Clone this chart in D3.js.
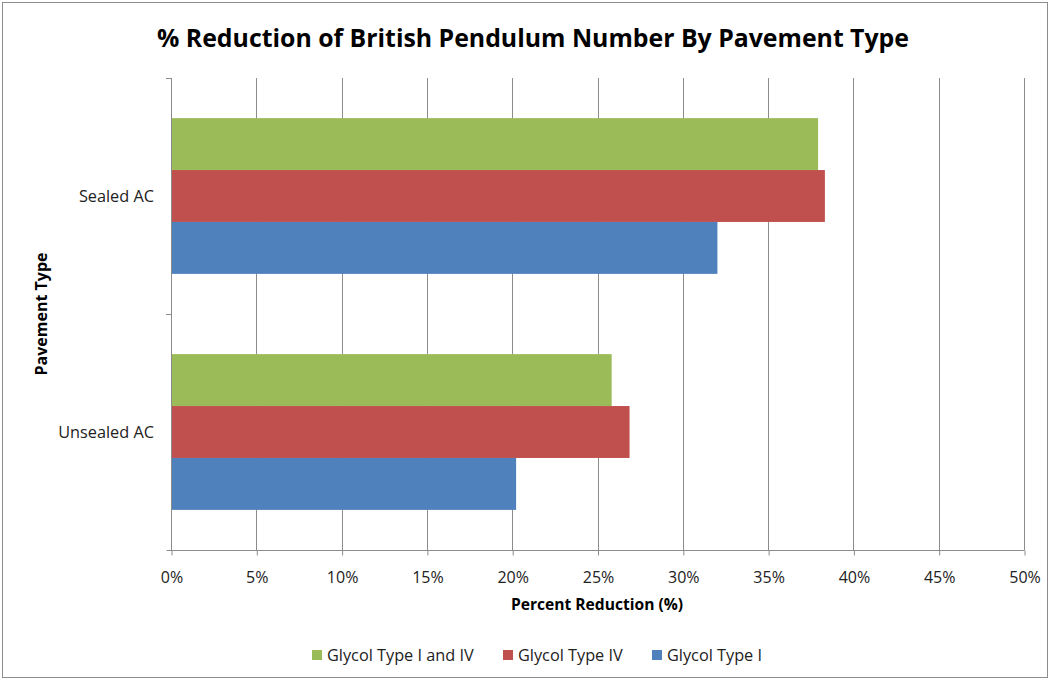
<!DOCTYPE html>
<html>
<head>
<meta charset="utf-8">
<script src="https://cdn.jsdelivr.net/npm/d3@7"></script>
<style>
  html, body { margin: 0; padding: 0; background: #fff; }
  svg { display: block; font-family: "Open Sans", "Liberation Sans", sans-serif; }
</style>
</head>
<body>
<svg id="chart" width="1050" height="680"></svg>
<script>
// Data
const categories = ["Sealed AC", "Unsealed AC"];
const seriesNames = ["Glycol Type I and IV", "Glycol Type IV", "Glycol Type I"];
const seriesColors = ["#9BBB59", "#C0504D", "#4F81BD"];
const glycolTypeIandIV = [37.9, 25.8];
const glycolTypeIV = [38.3, 26.85];
const glycolTypeI = [32.0, 20.2];
const xTicks = [0, 5, 10, 15, 20, 25, 30, 35, 40, 45, 50];

const seriesValues = [glycolTypeIandIV, glycolTypeIV, glycolTypeI];

const svg = d3.select("#chart");
const W = 1050, H = 680;

// outer border
svg.append("rect").attr("x", 2.5).attr("y", 2.5).attr("width", W - 5).attr("height", H - 5)
  .attr("fill", "#fff").attr("stroke", "#8c8c8c").attr("stroke-width", 1);

const plot = { left: 171, right: 1024, top: 78, bottom: 550 };

const x = d3.scaleLinear().domain([0, 50]).range([plot.left, plot.right]);
const y = d3.scaleBand().domain(categories).range([plot.top, plot.bottom]).paddingInner(0.34).paddingOuter(0.17);
const ySub = d3.scaleBand().domain(seriesNames).range([0, y.bandwidth()]);

// gridlines
svg.append("g").selectAll("line").data(xTicks.slice(1)).join("line")
  .attr("x1", d => Math.round(x(d)) + 0.5).attr("x2", d => Math.round(x(d)) + 0.5)
  .attr("y1", plot.top).attr("y2", plot.bottom)
  .attr("stroke", "#8c8c8c").attr("stroke-width", 1);

// bars
const tableRows = [];
categories.forEach((c, ci) => seriesNames.forEach((s, si) => tableRows.push({ cat: c, series: s, si, value: seriesValues[si][ci] })));
svg.append("g").selectAll("rect").data(tableRows).join("rect")
  .attr("x", x(0) + 0.5)
  .attr("y", d => y(d.cat) + ySub(d.series))
  .attr("width", d => x(d.value) - x(0))
  .attr("height", ySub.bandwidth())
  .attr("fill", d => seriesColors[d.si]);

// x axis
const xAxis = d3.axisBottom(x).tickValues(xTicks).tickFormat(d => d + "%").tickSize(5).tickSizeOuter(0);
const gx = svg.append("g").attr("transform", `translate(0.5,${plot.bottom + 0.5})`).call(xAxis);
gx.select(".domain").attr("stroke", "#8c8c8c").attr("d", `M${plot.left - 5},0H${plot.right}`);
gx.selectAll(".tick line").attr("stroke", "#8c8c8c");
gx.selectAll(".tick text").attr("font-size", 16).attr("fill", "#222").attr("y", 21).attr("dy", "0.71em")
  .attr("font-family", "'Open Sans', sans-serif");

// y axis line with ticks at band boundaries
const gy = svg.append("g");
gy.append("line").attr("x1", plot.left + 0.5).attr("x2", plot.left + 0.5).attr("y1", plot.top).attr("y2", plot.bottom)
  .attr("stroke", "#8c8c8c");
const boundaries = [plot.top, (y(categories[0]) + y.bandwidth() + y(categories[1])) / 2];
gy.selectAll("line.t").data(boundaries).join("line").attr("class", "t")
  .attr("x1", plot.left - 5).attr("x2", plot.left)
  .attr("y1", d => Math.round(d) + 0.5).attr("y2", d => Math.round(d) + 0.5)
  .attr("stroke", "#8c8c8c");
gy.selectAll("text").data(categories).join("text")
  .attr("x", 154).attr("y", d => y(d) + y.bandwidth() / 2)
  .attr("text-anchor", "end").attr("dy", "0.35em")
  .attr("font-size", 16.3).attr("fill", "#222").text(d => d);

// title
svg.append("text").attr("x", 533).attr("y", 47).attr("text-anchor", "middle")
  .attr("font-size", 25).attr("font-weight", "bold").attr("fill", "#000")
  .attr("textLength", 752).attr("lengthAdjust", "spacingAndGlyphs")
  .text("% Reduction of British Pendulum Number By Pavement Type");

// axis titles
svg.append("text").attr("x", 597).attr("y", 610).attr("text-anchor", "middle")
  .attr("font-size", 15.6).attr("font-weight", "bold").attr("fill", "#000")
  .text("Percent Reduction (%)");
svg.append("text").attr("transform", `translate(47,314) rotate(-90)`).attr("text-anchor", "middle")
  .attr("font-size", 16).attr("font-weight", "bold").attr("fill", "#000")
  .text("Pavement Type");

// legend
const legendX = [312, 503, 652];
const lg = svg.append("g").selectAll("g").data(seriesNames).join("g")
  .attr("transform", (d, i) => `translate(${legendX[i]},650)`);
lg.append("rect").attr("x", 0).attr("y", 0).attr("width", 10).attr("height", 10)
  .attr("fill", (d, i) => seriesColors[i]);
lg.append("text").attr("x", 15).attr("y", 5).attr("dy", "0.35em")
  .attr("font-size", 16.3).attr("fill", "#222").text(d => d);
</script>
</body>
</html>
